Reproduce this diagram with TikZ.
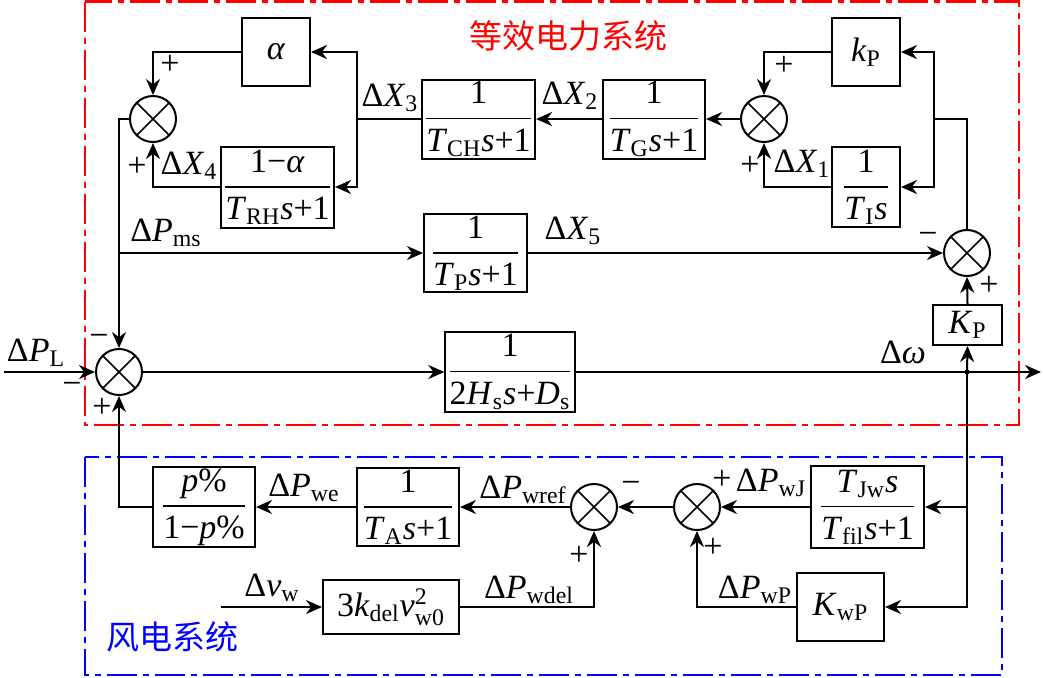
\documentclass[tikz,border=0pt]{standalone}
\usepackage{amsmath}
\usepackage{fontspec}
\setmainfont{Liberation Serif}
\newfontfamily\cjk{Noto Sans CJK SC}
\usepackage{xcolor}
\usepackage{tikz}
\usetikzlibrary{positioning, arrows.meta}

\newcommand{\blkfrac}[2]{$\dfrac{\text{#1}}{\text{#2}}$}

\begin{document}
\begin{tikzpicture}[
        x=0.5pt, y=-0.5pt,
        line width=1pt,
        font=\fontsize{17}{19}\selectfont,
        box/.style={rectangle, draw, inner sep=1pt, align=center},
        sumnode/.style={circle, draw, minimum size=23pt, inner sep=0pt,
            path picture={\draw[line width=0.8pt] (path picture bounding box.north west) -- (path picture bounding box.south east)
                (path picture bounding box.north east) -- (path picture bounding box.south west);}},
        arrow/.style={-{Stealth[length=8pt, width=7pt]}},
        lbl/.style={inner sep=0pt},
        region/.style={dash pattern=on 15pt off 3pt on 3pt off 3pt, line width=1.1pt},
        title/.style={font=\cjk\fontsize{16.5}{18}\selectfont},
    ]
    \useasboundingbox (0,0) rectangle (1043,677);

    % Regions
    \draw[region, red] (85,1.5) rectangle (1019,425);
    \draw[region, blue] (85,457) rectangle (1002,675);
    \node[title, red] (tpower) at (568,36) {等效电力系统};
    \node[title, blue] (twind) at (172,637) {风电系统};

    % Power system blocks
    \node[box, minimum width=34pt, minimum height=34pt] (al) at (276,52) {\textit{α}};
    \node[box, minimum width=56.5pt, minimum height=40.5pt] (trh) at (277.5,187) {\blkfrac{1−\textit{α}}{\textit{T}\textsubscript{RH}\textit{s}+1}};
    \node[box, minimum width=54.5pt, minimum height=39.5pt] (tch) at (478.5,119) {\blkfrac{1}{\textit{T}\textsubscript{CH}\textit{s}+1}};
    \node[box, minimum width=51pt, minimum height=39.5pt] (tg) at (654,119) {\blkfrac{1}{\textit{T}\textsubscript{G}\textit{s}+1}};
    \node[box, minimum width=34pt, minimum height=34pt] (kp) at (866,52) {\textit{k}\textsubscript{P}};
    \node[box, minimum width=34pt, minimum height=40pt] (ti) at (866,187) {\blkfrac{1}{\textit{T}\textsubscript{I}\textit{s}}};
    \node[box, minimum width=51.5pt, minimum height=37.5pt] (tp) at (475.5,253) {\blkfrac{1}{\textit{T}\textsubscript{P}\textit{s}+1}};
    \node[box, minimum width=64pt, minimum height=40pt] (hs) at (510,372) {\blkfrac{1}{2\textit{H}\textsubscript{s}\textit{s}+\textit{D}\textsubscript{s}}};
    \node[box, minimum width=34.5pt, minimum height=20pt] (kpw) at (967.5,325) {\textit{K}\textsubscript{P}};

    \node[sumnode] (s0) at (119,372) {};
    \node[sumnode] (s1) at (153,119) {};
    \node[sumnode] (s2) at (764,119) {};
    \node[sumnode] (s3) at (967,253) {};

    % Wind system blocks
    \node[box, minimum width=51pt, minimum height=39pt] (pp) at (204,507) {\blkfrac{\textit{p}\%}{1−\textit{p}\%}};
    \node[box, minimum width=51pt, minimum height=39pt] (ta) at (408,507) {\blkfrac{1}{\textit{T}\textsubscript{A}\textit{s}+1}};
    \node[box, minimum width=56.5pt, minimum height=41pt] (tfil) at (867.5,507) {\blkfrac{\textit{T}\textsubscript{Jw}\textit{s}}{\textit{T}\textsubscript{fil}\textit{s}+1}};
    \node[box, minimum width=43.5pt, minimum height=34pt] (kwp) at (840.5,607) {\textit{K}\textsubscript{wP}};
    \node[box, minimum width=68pt, minimum height=27pt] (kdel) at (391,607) {3\textit{k}\textsubscript{del}$\text{\textit{v}}^{\text{2}}_{\text{w0}}$};

    \node[sumnode] (s4) at (594,507) {};
    \node[sumnode] (s5) at (697,507) {};

    % Points
    \coordinate (in0) at (4,372);
    \coordinate (out) at (1041,372);
    \coordinate (j) at (967,372);
    \coordinate (b1) at (934,119);
    \coordinate (b3) at (357,119);
    \coordinate (b5) at (119,253);
    \coordinate (vin) at (221,607);
    \fill (j) circle (2.5);

    % Power system arrows
    \draw[arrow] (in0) -- (s0.west);
    \draw[arrow] (s0.east) -- (hs.west);
    \draw[arrow] (hs.east) -- (out);
    \draw[arrow] (j) -- (kpw.south);
    \draw[arrow] (kpw.north) -- (s3.south);
    \draw[arrow] (tp.east) -- (s3.west);
    \draw[arrow] (s3.north) |- (b1) |- (kp.east);
    \draw[arrow] (b1) |- (ti.east);
    \draw[arrow] (kp.west) -| (s2.north);
    \draw[arrow] (ti.west) -| (s2.south);
    \draw[arrow] (s2.west) -- (tg.east);
    \draw[arrow] (tg.west) -- (tch.east);
    \draw (tch.west) -- (b3);
    \draw[arrow] (b3) |- (al.east);
    \draw[arrow] (b3) |- (trh.east);
    \draw[arrow] (al.west) -| (s1.north);
    \draw[arrow] (trh.west) -| (s1.south);
    \draw[arrow] (s1.west) -| (s0.north);
    \draw[arrow] (b5) -- (tp.west);

    % Wind system arrows
    \draw[arrow] (j) |- (tfil.east);
    \draw[arrow] (j) |- (kwp.east);
    \draw[arrow] (tfil.west) -- (s5.east);
    \draw[arrow] (kwp.west) -| (s5.south);
    \draw[arrow] (s5.west) -- (s4.east);
    \draw[arrow] (kdel.east) -| (s4.south);
    \draw[arrow] (vin) -- (kdel.west);
    \draw[arrow] (s4.west) -- (ta.east);
    \draw[arrow] (ta.west) -- (pp.east);
    \draw[arrow] (pp.west) -| (s0.south);

    % Signal labels
    \node[lbl] (lx3) at (390,98) {Δ\textit{X}\textsubscript{3}};
    \node[lbl] (lx4) at (189,166) {Δ\textit{X}\textsubscript{4}};
    \node[lbl] (lx2) at (570,96) {Δ\textit{X}\textsubscript{2}};
    \node[lbl] (lx1) at (802,164) {Δ\textit{X}\textsubscript{1}};
    \node[lbl] (lx5) at (573,231) {Δ\textit{X}\textsubscript{5}};
    \node[lbl] (lpms) at (166,233) {Δ\textit{P}\textsubscript{ms}};
    \node[lbl] (lpl) at (36,353) {Δ\textit{P}\textsubscript{L}};
    \node[lbl] (lw) at (903,352) {Δ\textit{ω}};
    \node[lbl] (lpwe) at (304,488) {Δ\textit{P}\textsubscript{we}};
    \node[lbl] (lpwref) at (523,490) {Δ\textit{P}\textsubscript{wref}};
    \node[lbl] (lpwj) at (771,483) {Δ\textit{P}\textsubscript{wJ}};
    \node[lbl] (lpwp) at (755,590) {Δ\textit{P}\textsubscript{wP}};
    \node[lbl] (lpwdel) at (529,590) {Δ\textit{P}\textsubscript{wdel}};
    \node[lbl] (lvw) at (272,588) {Δ\textit{v}\textsubscript{w}};

    % Signs
    \node[lbl] (g1) at (170,65) {+};
    \node[lbl] (g2) at (137,167) {+};
    \node[lbl] (g3) at (784,66) {+};
    \node[lbl] (g4) at (750,166) {+};
    \node[lbl] (g5) at (928,238) {−};
    \node[lbl] (g6) at (989,286) {+};
    \node[lbl] (g7) at (99,340) {−};
    \node[lbl] (g8) at (72,388) {−};
    \node[lbl] (g9) at (102,408) {+};
    \node[lbl] (g10) at (631,487) {−};
    \node[lbl] (g11) at (722,480) {+};
    \node[lbl] (g12) at (713,548) {+};
    \node[lbl] (g13) at (579,556) {+};

\end{tikzpicture}
\end{document}
